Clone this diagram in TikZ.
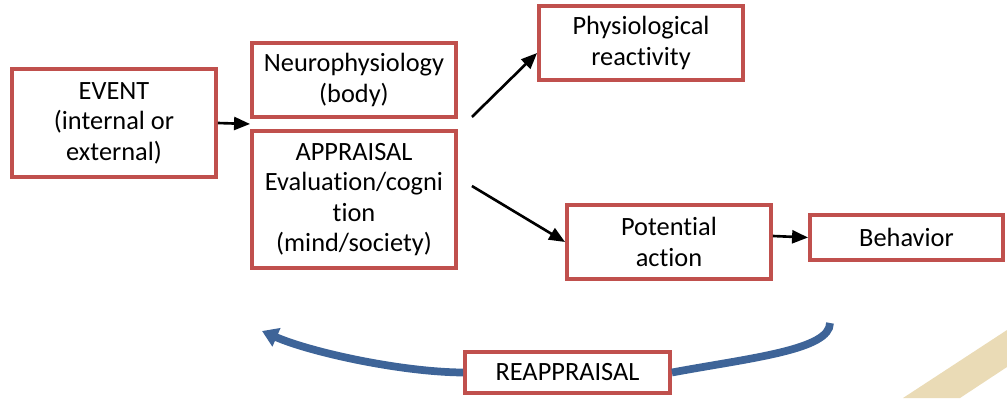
\documentclass[tikz,border=0pt]{standalone}
\usepackage{fontspec}
\setmainfont{Carlito}[Ligatures=NoCommon]
\usetikzlibrary{arrows.meta, calc}
\usepackage{xcolor}
\definecolor{boxred}{RGB}{192,80,77}
\definecolor{loopblue}{RGB}{62,100,152}
\definecolor{bandtan}{RGB}{234,219,182}

\begin{document}
\begin{tikzpicture}[
    box/.style={
        draw=boxred,
        line width=2.2pt,
        fill=white,
        align=center,
        inner sep=0pt,
        minimum width=4.08cm,
        minimum height=1.48cm,
        font=\fontsize{15}{17.4}\selectfont
    },
    arrow/.style={
        -{Triangle[length=0.32cm,width=0.26cm]},
        line width=1.5pt
    },
    loop/.style={
        draw=loopblue,
        line width=4.4pt
    }
]

\useasboundingbox (0,0) rectangle (20.14,-7.96);

% band in the corner
\fill[bandtan] (18.06,-7.96) -- (20.14,-6.6) -- (20.14,-7.34) -- (19.2,-7.96) -- cycle;

\node[box, minimum height=2.16cm] (event) at (2.28,-2.46)
{EVENT\\
(internal or\\
external)};

\node[box] (neuro) at (7.08,-1.6)
{Neurophysiology\\
(body)};

\node[box, minimum height=2.74cm] (appraisal) at (7.08,-3.99)
{APPRAISAL\\
Evaluation/cogni\\
tion\\
(mind/society)};

\node[box] (physio) at (12.82,-0.86)
{Physiological\\
reactivity};

\node[box] (action) at (13.38,-4.84)
{Potential\\
action};

\node[box, minimum width=3.86cm, minimum height=0.9cm] (behavior) at (18.13,-4.75)
{Behavior};

\node[box, minimum width=4.1cm, minimum height=0.82cm] (reappraisal) at (11.35,-7.45)
{REAPPRAISAL};

\coordinate (gap) at ($(neuro.south west)!0.5!(appraisal.north west)$);
\coordinate (loopL) at (5.24,-6.62);
\coordinate (loopR) at (16.6,-6.46);

\draw[arrow] (event.east) -- (gap);
\draw[arrow] ($(neuro.south east)+(0.28,0.04)$) -- ([yshift=-0.2cm]physio.west);
\draw[arrow] ($(appraisal.east)+(0.28,0.27)$) -- (action.west);
\draw[arrow] ([yshift=0.12cm]action.east) -- (behavior.west);

% reappraisal loop
\draw[loop, -{Triangle[length=9pt,width=11pt]}] (reappraisal.west)
  .. controls (8.0,-7.44) and (6.2,-7.04) .. (loopL);
\draw[loop] (reappraisal.east)
  .. controls (15.0,-7.16) and (16.6,-7.0) .. (loopR);

\end{tikzpicture}
\end{document}
